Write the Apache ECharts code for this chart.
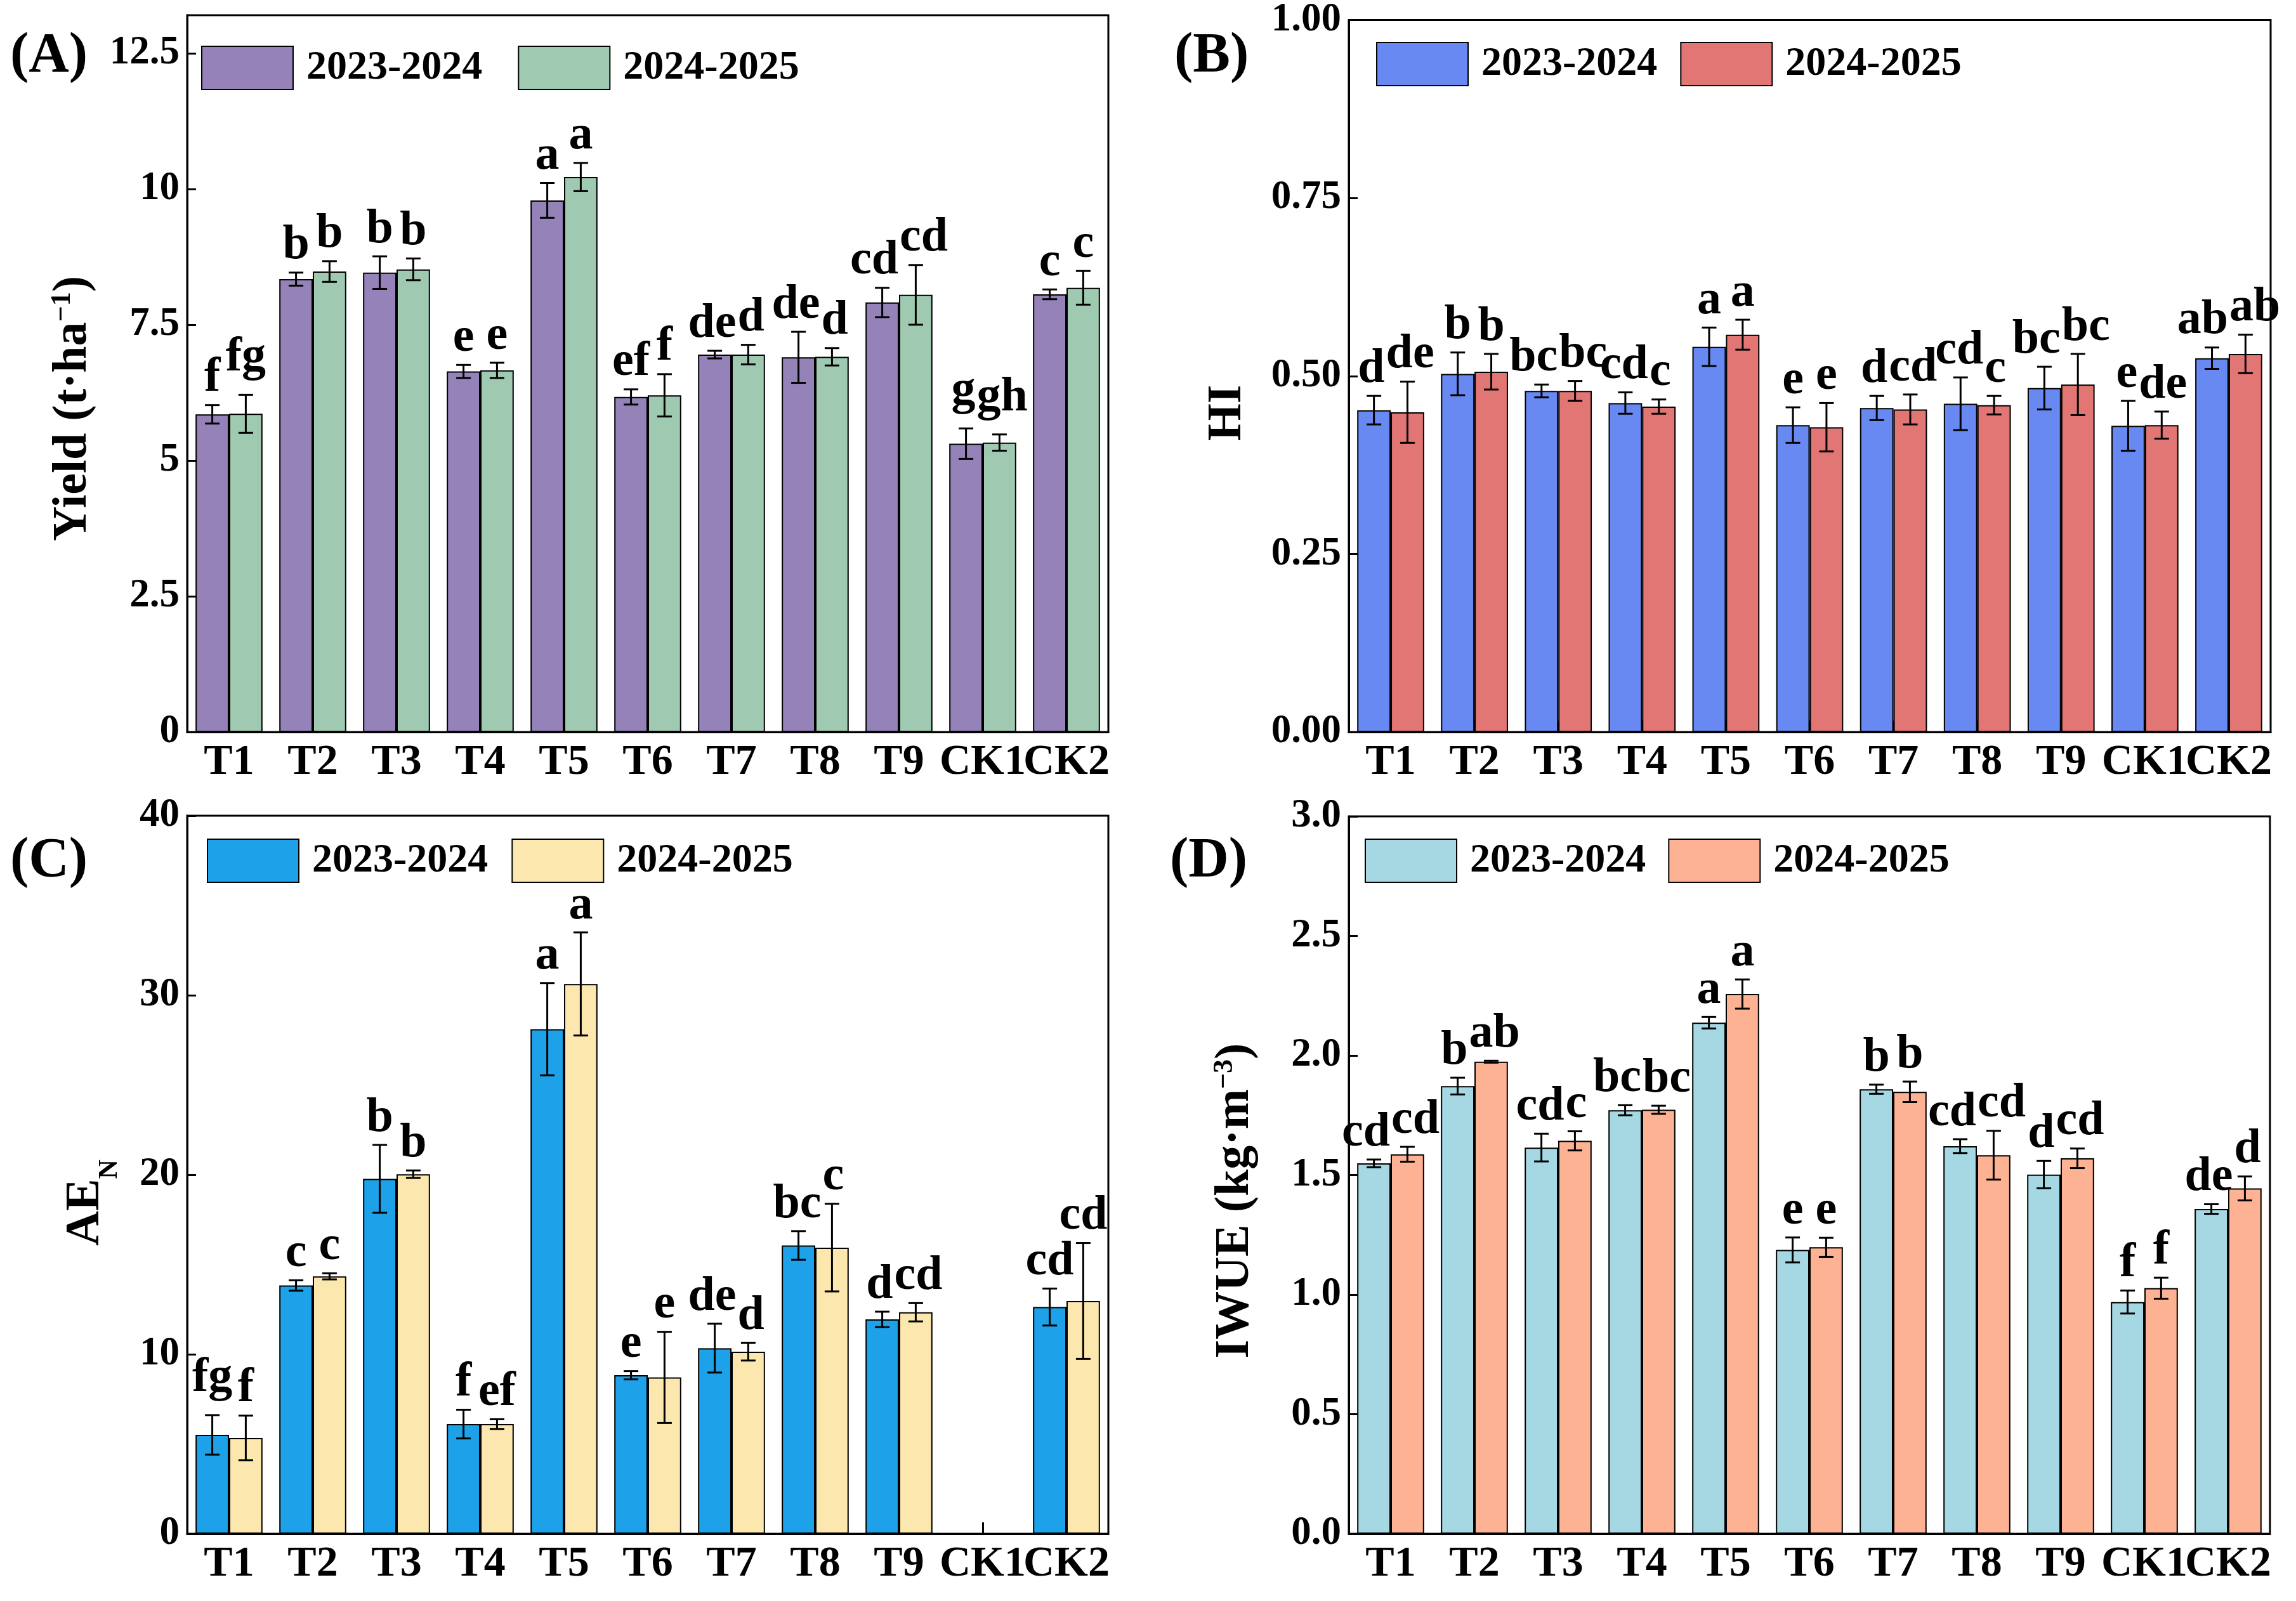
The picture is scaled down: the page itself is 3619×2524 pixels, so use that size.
<!DOCTYPE html>
<html><head><meta charset="utf-8">
<script src="https://cdn.jsdelivr.net/npm/echarts@6/dist/echarts.min.js"></script>
<style>html,body{margin:0;padding:0;background:#fff}#c{width:3619px;height:2524px}</style>
</head><body><div id="c"></div><script>
const categories = ['T1','T2','T3','T4','T5','T6','T7','T8','T9','CK1','CK2'];
const seasons = ['2023-2024','2024-2025'];

// (A) Yield
const yieldMean2324 = [5.85, 8.34, 8.46, 6.64, 9.79, 6.17, 6.95, 6.90, 7.91, 5.31, 8.06];
const yieldSd2324   = [0.17, 0.12, 0.30, 0.12, 0.32, 0.14, 0.07, 0.47, 0.27, 0.28, 0.09];
const yieldMean2425 = [5.86, 8.48, 8.52, 6.66, 10.22, 6.20, 6.95, 6.91, 8.05, 5.33, 8.18];
const yieldSd2425   = [0.35, 0.19, 0.20, 0.14, 0.26, 0.39, 0.18, 0.16, 0.55, 0.15, 0.31];
const yieldLet2324  = ['f','b','b','e','a','ef','de','de','cd','g','c'];
const yieldLet2425  = ['fg','b','b','e','a','f','d','d','cd','gh','c'];

// (B) HI
const hiMean2324 = [0.452, 0.503, 0.479, 0.462, 0.541, 0.431, 0.455, 0.461, 0.483, 0.430, 0.525];
const hiSd2324   = [0.020, 0.030, 0.009, 0.015, 0.027, 0.025, 0.017, 0.037, 0.030, 0.035, 0.015];
const hiMean2425 = [0.449, 0.506, 0.479, 0.457, 0.558, 0.428, 0.453, 0.459, 0.488, 0.431, 0.531];
const hiSd2425   = [0.043, 0.025, 0.014, 0.010, 0.021, 0.034, 0.021, 0.013, 0.043, 0.019, 0.027];
const hiLet2324  = ['d','b','bc','cd','a','e','d','cd','bc','e','ab'];
const hiLet2425  = ['de','b','bc','c','a','e','cd','c','bc','de','ab'];

// (C) AEN
const aeMean2324 = [5.51, 13.83, 19.77, 6.11, 28.11, 8.83, 10.34, 16.06, 11.94, null, 12.63];
const aeSd2324   = [1.10, 0.29, 1.89, 0.80, 2.57, 0.23, 1.36, 0.80, 0.43, null, 1.03];
const aeMean2425 = [5.34, 14.34, 20.03, 6.11, 30.63, 8.71, 10.14, 15.94, 12.34, null, 12.97];
const aeSd2425   = [1.24, 0.17, 0.21, 0.27, 2.87, 2.54, 0.49, 2.44, 0.51, null, 3.23];
const aeLet2324  = ['fg','c','b','f','a','e','de','bc','d','','cd'];
const aeLet2425  = ['f','c','b','ef','a','e','d','c','cd','','cd'];

// (D) IWUE
const iwueMean2324 = [1.549, 1.872, 1.615, 1.771, 2.137, 1.187, 1.859, 1.621, 1.502, 0.969, 1.358];
const iwueSd2324   = [0.016, 0.035, 0.058, 0.021, 0.024, 0.052, 0.019, 0.029, 0.057, 0.048, 0.020];
const iwueMean2425 = [1.587, 1.974, 1.643, 1.773, 2.257, 1.198, 1.848, 1.583, 1.570, 1.027, 1.444];
const iwueSd2425   = [0.031, 0.004, 0.040, 0.017, 0.061, 0.040, 0.043, 0.102, 0.041, 0.044, 0.050];
const iwueLet2324  = ['cd','b','cd','bc','a','e','b','cd','d','f','de'];
const iwueLet2425  = ['cd','ab','c','bc','a','e','b','cd','cd','f','d'];

const FF = "'Liberation Serif','Times New Roman',serif";
const LETTER_SIZE = 76;

const panels = [
  {id:'A', grid:{left:295, top:24, width:1452, height:1130}, max:13.2, interval:2.5, fmt:v=>String(v), hideMax:true,
   colors:['#9482B8','#9FCAB1'], means:[yieldMean2324,yieldMean2425], sds:[yieldSd2324,yieldSd2425], lets:[yieldLet2324,yieldLet2425],
   legend:{left:312, top:67, gap:56}},
  {id:'B', grid:{left:2126, top:24, width:1453, height:1130}, max:1.0, interval:0.25, fmt:v=>v.toFixed(2), hideMax:false,
   colors:['#6789F1','#E27675'], means:[hiMean2324,hiMean2425], sds:[hiSd2324,hiSd2425], lets:[hiLet2324,hiLet2425],
   legend:{left:2164, top:61, gap:36}},
  {id:'C', grid:{left:295, top:1286, width:1452, height:1132}, max:40, interval:10, fmt:v=>String(v), hideMax:false,
   colors:['#1DA1E9','#FCE8AF'], means:[aeMean2324,aeMean2425], sds:[aeSd2324,aeSd2425], lets:[aeLet2324,aeLet2425],
   legend:{left:321, top:1317, gap:37}},
  {id:'D', grid:{left:2126, top:1287, width:1452, height:1131}, max:3.0, interval:0.5, fmt:v=>v.toFixed(1), hideMax:false,
   colors:['#A6D8E4','#FEB294'], means:[iwueMean2324,iwueMean2425], sds:[iwueSd2324,iwueSd2425], lets:[iwueLet2324,iwueLet2425],
   legend:{left:2146, top:1317, gap:35}}
];

const measureCtx = document.createElement('canvas').getContext('2d');
function textW(t) {
  measureCtx.font = 'bold ' + LETTER_SIZE + "px 'Liberation Serif'";
  return measureCtx.measureText(t || '').width;
}

function errRender(p, s) {
  const side = s === 0 ? -1 : 1;
  return function (params, api) {
    const i = params.dataIndex;
    const m = p.means[s][i];
    if (m == null) return null;
    const sd = p.sds[s][i];
    const band = api.size([1, 0])[0];
    const bw = band * 0.8 / 2;
    const c = api.coord([i, m]);
    const x = c[0] + side * bw / 2;
    const yT = api.coord([i, m + sd])[1];
    const yB = api.coord([i, m - sd])[1];
    const cap = 11.5;
    const ls = {stroke:'#000', lineWidth:3};
    // label placement: above error bar, raised for descenders, pushed apart if neighbour overlaps
    const txt = p.lets[s][i];
    const drop = t => (/[gpqy]/.test(t) ? 16 : 0);
    let ty = yT - 4 - drop(txt);
    let tx = x;
    const o = 1 - s;
    const om = p.means[o][i];
    if (om != null && p.lets[o][i]) {
      const oyT = api.coord([i, om + p.sds[o][i]])[1] - 4 - drop(p.lets[o][i]);
      const overlap = (textW(txt) + textW(p.lets[o][i])) / 2 - bw + 2;
      if (overlap > 0 && Math.abs(oyT - ty) < LETTER_SIZE * 0.6) tx += side * overlap / 2;
    }
    return {type:'group', children:[
      {type:'line', shape:{x1:x, y1:yT, x2:x, y2:yB}, style:ls},
      {type:'line', shape:{x1:x-cap, y1:yT, x2:x+cap, y2:yT}, style:ls},
      {type:'line', shape:{x1:x-cap, y1:yB, x2:x+cap, y2:yB}, style:ls},
      {type:'text', x:tx, y:ty, style:{text:txt, fontSize:LETTER_SIZE, fontWeight:'bold', fontFamily:FF,
        fill:'#000', align:'center', verticalAlign:'bottom'}}
    ]};
  };
}

const grids = [], xAxes = [], yAxes = [], series = [], legends = [];
panels.forEach((p, k) => {
  grids.push(Object.assign({show:true, borderColor:'#000', borderWidth:3, backgroundColor:'transparent'}, p.grid));
  xAxes.push({type:'category', gridIndex:k, data:categories,
    axisLine:{show:true, lineStyle:{color:'#000', width:3}},
    axisTick:{show:true, inside:true, alignWithLabel:true, length:18, lineStyle:{color:'#000', width:3}},
    axisLabel:{interval:0, margin:14, fontSize:68, fontWeight:'bold', fontFamily:FF, color:'#000'}});
  yAxes.push({type:'value', gridIndex:k, min:0, max:p.max, interval:p.interval,
    axisLine:{show:true, lineStyle:{color:'#000', width:3}},
    axisTick:{show:true, inside:true, length:14, lineStyle:{color:'#000', width:3}},
    splitLine:{show:false},
    axisLabel:{showMaxLabel: p.hideMax ? false : true, margin:12, fontSize:63, fontWeight:'bold', fontFamily:FF, color:'#000', formatter:p.fmt}});
  [0, 1].forEach(s => {
    const name = p.id + '|' + seasons[s];
    series.push({type:'bar', name:name, xAxisIndex:k, yAxisIndex:k,
      data:p.means[s], barGap:'0%', barCategoryGap:'20%',
      itemStyle:{color:p.colors[s], borderColor:'#000', borderWidth:2}, z:2});
    series.push({type:'custom', name:name + '|err', xAxisIndex:k, yAxisIndex:k, z:5, clip:false, silent:true,
      renderItem:errRender(p, s),
      encode:{x:0, y:1},
      data:categories.map((c, i) => [i, p.means[s][i] == null ? 0 : p.means[s][i]])});
  });
  legends.push({data:[p.id + '|' + seasons[0], p.id + '|' + seasons[1]], left:p.legend.left, top:p.legend.top,
    orient:'horizontal', itemWidth:144, itemHeight:68, itemGap:p.legend.gap, icon:'rect', selectedMode:false,
    formatter:n => n.split('|')[1],
    itemStyle:{borderColor:'#000', borderWidth:2},
    textStyle:{fontSize:64, fontWeight:'bold', fontFamily:FF, color:'#000', padding:[0,0,0,16]}});
});

const richMain = {fontSize:76, fontWeight:'bold', fontFamily:FF, fill:'#000'};
const rich = {
  b: richMain,
  sup: {fontSize:44, fontWeight:'bold', fontFamily:FF, fill:'#000', padding:[0,0,32,0]},
  sub: {fontSize:42, fontWeight:'bold', fontFamily:FF, fill:'#000', padding:[77,0,0,0]}
};
function yTitle(text, x, y) {
  return {type:'text', x:x, y:y, rotation:Math.PI/2, z:10,
    style:{text:text, rich:rich, align:'center', verticalAlign:'middle', fontSize:76, fontWeight:'bold', fontFamily:FF, fill:'#000'}};
}
function panelLabel(text, x, y) {
  return {type:'text', x:x, y:y, z:10,
    style:{text:text, fontSize:88, fontWeight:'bold', fontFamily:FF, fill:'#000', align:'left', verticalAlign:'middle'}};
}

const option = {
  animation:false,
  backgroundColor:'#fff',
  grid:grids, xAxis:xAxes, yAxis:yAxes, series:series, legend:legends,
  graphic:[
    panelLabel('(A)', 16, 89), panelLabel('(B)', 1851, 89),
    panelLabel('(C)', 16, 1358), panelLabel('(D)', 1844, 1358),
    yTitle('{b|Yield (t·ha}{sup|−1}{b|)}', 115, 644),
    yTitle('{b|HI}', 1935, 651),
    yTitle('{b|AE}{sub|N}', 135, 1896),
    yTitle('{b|IWUE (kg·m}{sup|−3}{b|)}', 1947, 1893)
  ]
};
const chart = echarts.init(document.getElementById('c'), null, {renderer:'canvas'});
chart.setOption(option);
</script></body></html>
